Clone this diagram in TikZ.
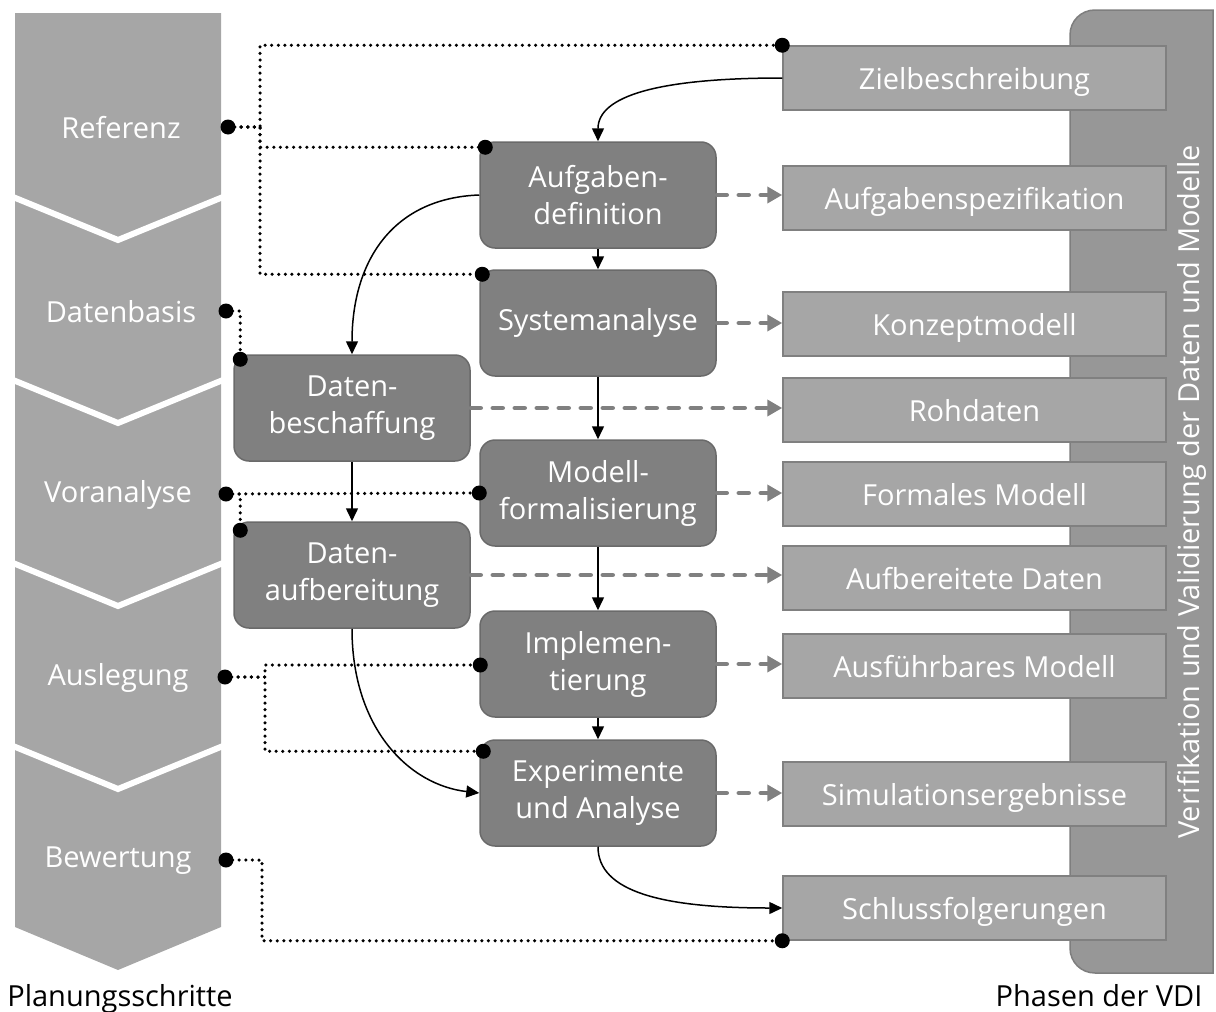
\documentclass[tikz,border=0pt]{standalone}
\usepackage{fontspec}
\setmainfont{Open Sans}
\usetikzlibrary{arrows.meta,calc}
\definecolor{chevgray}{HTML}{A6A6A6}
\definecolor{resfill}{HTML}{A6A6A6}
\definecolor{resline}{HTML}{808080}
\definecolor{procfill}{HTML}{808080}
\definecolor{procline}{HTML}{6A6A6A}
\definecolor{barfill}{HTML}{979797}
\definecolor{barline}{HTML}{7E7E7E}
\definecolor{flowgray}{HTML}{808080}
\begin{document}
\begin{tikzpicture}[x=1pt,y=-1pt,
  txt/.style={font=\fontsize{29}{37}\selectfont},
  chevlabel/.style={txt,text=white},
  procbox/.style={txt,text=white,align=center,draw=procline,line width=1.5pt,fill=procfill,
    rounded corners=15pt,minimum width=236pt,minimum height=106pt,inner sep=0pt},
  resbox/.style={txt,text=white,draw=resline,line width=1.5pt,fill=resfill,
    minimum width=383pt,minimum height=64pt,inner sep=0pt,text depth=0pt},
  flow/.style={black,line width=1.5pt,-{Triangle[length=13pt,width=12pt]}},
  product/.style={flowgray,line width=4.5pt,line cap=round,dash pattern=on 10pt off 12pt,
    -{Triangle[length=15pt,width=16pt,line cap=butt]}},
  link/.style={black,line width=3.5pt,line cap=round,dash pattern=on 0pt off 6.6pt},
  knob/.style={black,fill=black},
]
\useasboundingbox (0,0) rectangle (1216,1012);

% column of planning steps
\fill[chevgray] (15,13) -- (221,13) -- (221,927) -- (118,970) -- (15,927) -- cycle;
\foreach \k in {0,1,2,3}{
  \draw[white,line width=6pt] (13,197+183*\k) -- (118,240+183*\k) -- (223,197+183*\k);
}
\node[chevlabel] (s1) at (121,128) {Referenz};
\node[chevlabel] (s2) at (121,312) {Datenbasis};
\node[chevlabel] (s3) at (118,495) {Voranalyse};
\node[chevlabel] (s4) at (118,678) {Auslegung};
\node[chevlabel] (s5) at (118,861) {Bewertung};

% verification bar
\filldraw[fill=barfill,draw=barline,line width=1.5pt]
  (1213,10) -- (1095,10) .. controls (1081,10) and (1070,21) .. (1070,35)
  -- (1070,948) .. controls (1070,962) and (1081,973) .. (1095,973) -- (1213,973) -- cycle;
\node[font=\fontsize{29}{34}\selectfont,text=white,rotate=90] (vv) at (1192,492)
  {Verifikation und Validierung der Daten und Modelle};

% results
\node[resbox] (zb) at (974.5,78)  {Zielbeschreibung};
\node[resbox] (as) at (974.5,198) {Aufgabenspezifikation};
\node[resbox] (km) at (974.5,324) {Konzeptmodell};
\node[resbox] (rd) at (974.5,410) {Rohdaten};
\node[resbox] (fm) at (974.5,494) {Formales Modell};
\node[resbox] (ad) at (974.5,578) {Aufbereitete Daten};
\node[resbox] (am) at (974.5,666) {Ausführbares Modell};
\node[resbox] (se) at (974.5,794) {Simulationsergebnisse};
\node[resbox] (sf) at (974.5,908) {Schlussfolgerungen};

% process steps
\node[procbox] (p1) at (598,195) {Aufgaben-\\definition};
\node[procbox] (p2) at (598,323) {Systemanalyse};
\node[procbox] (p3) at (598,493) {Modell-\\formalisierung};
\node[procbox] (p4) at (598,664) {Implemen-\\tierung};
\node[procbox] (p5) at (598,793) {Experimente\\und Analyse};
\node[procbox] (d1) at (352,408) {Daten-\\beschaffung};
\node[procbox] (d2) at (352,575) {Daten-\\aufbereitung};

% control flow
\draw[flow] (zb.west) .. controls +(-125,0) and +(0,-45) .. (p1.north);
\draw[flow] (p1.south) -- (p2.north);
\draw[flow] (p2.south) -- (p3.north);
\draw[flow] (p3.south) -- (p4.north);
\draw[flow] (p4.south) -- (p5.north);
\draw[flow] (p1.west) .. controls +(-85,3) and +(0,-95) .. (d1.north);
\draw[flow] (d1.south) -- (d2.north);
\draw[flow] (d2.south) .. controls +(0,100) and +(-70,-8) .. (p5.west);
\draw[flow] (p5.south) .. controls +(0,45) and +(-120,0) .. (sf.west);

% produced results
\draw[product] (p1.east) -- (p1.east -| as.west);
\draw[product] (p2.east) -- (p2.east -| km.west);
\draw[product] (d1.east) -- (d1.east -| rd.west);
\draw[product] (p3.east) -- (p3.east -| fm.west);
\draw[product] (d2.east) -- (d2.east -| ad.west);
\draw[product] (p4.east) -- (p4.east -| am.west);
\draw[product] (p5.east) -- (p5.east -| se.west);

% attachment points of the planning steps
\coordinate (k1) at (228,127);
\coordinate (k2) at (226,311);
\coordinate (k3) at (226,494);
\coordinate (k4) at (225,677);
\coordinate (k5) at (226,860);
\coordinate (c1) at ([shift={(6,6)}]p1.north west);
\coordinate (c2) at ([shift={(3,5)}]p2.north west);
\coordinate (c3) at (p3.west);
\coordinate (c4) at ([shift={(1,1)}]p4.west);
\coordinate (c5) at ([shift={(4,12)}]p5.north west);
\coordinate (e1) at ([shift={(7,5)}]d1.north west);
\coordinate (e2) at ([shift={(7,9)}]d2.north west);

\draw[link] (k1) -- ++(32,0) |- (zb.north west);
\draw[link] (k1) -- ++(32,0) |- (c1);
\draw[link] (k1) -- ++(32,0) |- (c2);
\draw[link] (k2) -| (e1);
\draw[link] (k3) -- (c3);
\draw[link] (k3) -| (e2);
\draw[link] (k4) -- ++(40,0) |- (c4);
\draw[link] (k4) -- ++(40,0) |- (c5);
\draw[link] (k5) -- ++(36,0) |- (sf.south west);

\foreach \p in {k1,k2,k3,k4,k5,c1,c2,c3,c4,c5,e1,e2,zb.north west,sf.south west}{
  \fill[knob] (\p) circle (7.5pt);
}

% captions
\node[txt,anchor=base] (cap1) at (120,1006) {Planungsschritte};
\node[txt,anchor=base] (cap2) at (1099,1006) {Phasen der VDI};
\end{tikzpicture}
\end{document}
